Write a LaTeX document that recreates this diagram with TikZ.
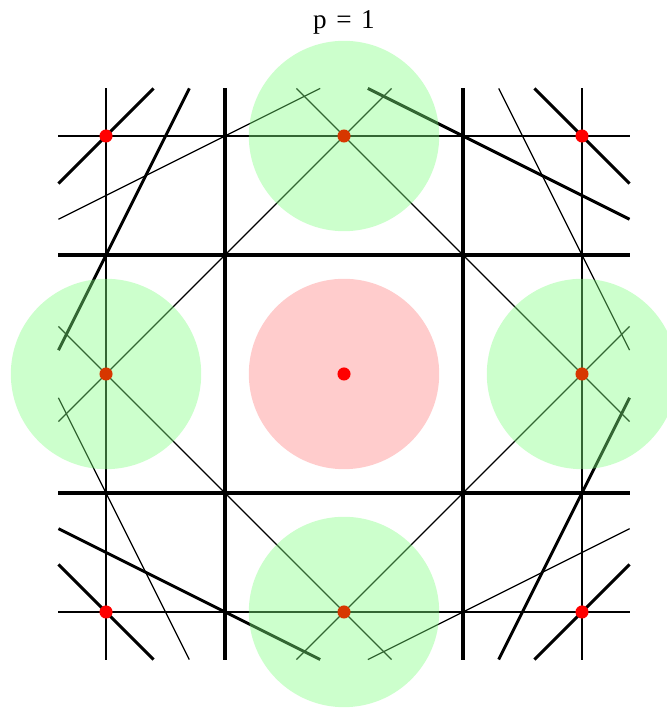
\documentclass[tikz,border=0pt]{standalone}
\usepackage{fontspec}
\setmainfont{Liberation Serif}
\definecolor{ballgreen}{RGB}{128,255,128}
\definecolor{ballpink}{RGB}{255,204,204}
\definecolor{sidesite}{RGB}{215,55,0}

\begin{document}
\begin{tikzpicture}[x=2cm,y=2cm,
  gridthin/.style={line width=0.8pt},
  gridthick/.style={line width=1.6pt},
  cutthin/.style={line width=0.6pt},
  cutthick/.style={line width=1.4pt},
  ball/.style={fill=ballgreen,fill opacity=0.4}]
\useasboundingbox (-2.891,-2.807) rectangle (2.714,3.143);
\node (title) at (0,2.958) {\fontsize{13}{15}\selectfont p\hspace{0.35em}=\hspace{0.35em}1};
% central ball
\fill[ballpink] (0,0) circle (0.8);
% lattice lines
\draw[gridthin] (-2,-2.4) -- (-2,2.4);
\draw[gridthin] (2,-2.4) -- (2,2.4);
\draw[gridthin] (-2.4,2) -- (2.4,2);
\draw[gridthin] (-2.4,-2) -- (2.4,-2);
\draw[gridthick] (-1,-2.4) -- (-1,2.4);
\draw[gridthick] (1,-2.4) -- (1,2.4);
\draw[gridthick] (-2.4,1) -- (2.4,1);
\draw[gridthick] (-2.4,-1) -- (2.4,-1);
% corner cuts
\draw[cutthick] (-2.4,1.6) -- (-1.6,2.4);
\draw[cutthick] (1.6,2.4) -- (2.4,1.6);
\draw[cutthick] (-2.4,-1.6) -- (-1.6,-2.4);
\draw[cutthick] (1.6,-2.4) -- (2.4,-1.6);
% steep cuts
\draw[cutthick] (-2.4,0.2) -- (-1.3,2.4);
\draw[cutthin] (1.3,2.4) -- (2.4,0.2);
\draw[cutthin] (-2.4,-0.2) -- (-1.3,-2.4);
\draw[cutthick] (1.3,-2.4) -- (2.4,-0.2);
% flat cuts
\draw[cutthin] (-2.4,1.3) -- (-0.2,2.4);
\draw[cutthick] (0.2,2.4) -- (2.4,1.3);
\draw[cutthick] (-2.4,-1.3) -- (-0.2,-2.4);
\draw[cutthin] (0.2,-2.4) -- (2.4,-1.3);
% diagonals through the side sites
\draw[cutthin] (-1,1) -- (0.4,2.4);
\draw[cutthin] (1,1) -- (-0.4,2.4);
\draw[cutthin] (-1,-1) -- (0.4,-2.4);
\draw[cutthin] (1,-1) -- (-0.4,-2.4);
\draw[cutthin] (-1,1) -- (-2.4,-0.4);
\draw[cutthin] (-1,-1) -- (-2.4,0.4);
\draw[cutthin] (1,1) -- (2.4,-0.4);
\draw[cutthin] (1,-1) -- (2.4,0.4);
% corner and centre sites
\fill[red] (-2,2) circle (0.055);
\fill[red] (2,2) circle (0.055);
\fill[red] (-2,-2) circle (0.055);
\fill[red] (2,-2) circle (0.055);
\fill[red] (0,0) circle (0.055);
% neighbour balls
\fill[ball] (0,2) circle (0.8);
\fill[ball] (0,-2) circle (0.8);
\fill[ball] (-2,0) circle (0.8);
\fill[ball] (2,0) circle (0.8);
% side sites
\fill[sidesite] (0,2) circle (0.055);
\fill[sidesite] (0,-2) circle (0.055);
\fill[sidesite] (-2,0) circle (0.055);
\fill[sidesite] (2,0) circle (0.055);
\end{tikzpicture}
\end{document}
